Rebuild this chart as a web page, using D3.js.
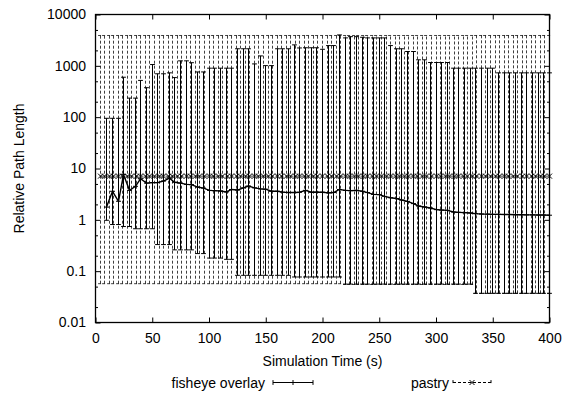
<!DOCTYPE html>
<html>
<head>
<meta charset="utf-8">
<script src="https://cdn.jsdelivr.net/npm/d3@7"></script>
<style>
  body { margin: 0; background: #fff; }
  svg { display: block; }
  text { font-family: "Liberation Sans", Arial, Helvetica, sans-serif; font-size: 14px; fill: #000; }
</style>
</head>
<body>
<svg id="chart" width="569" height="394"></svg>
<script>
// fisheye overlay: mean with min/max error bars
const fisheyeTime = [10, 15, 20, 25, 30, 35, 40, 45, 50, 55, 60, 65, 70, 75, 80, 85, 90, 95, 100, 105,
  110, 115, 120, 125, 130, 135, 140, 145, 150, 155, 160, 165, 170, 175, 180, 185, 190, 195, 200, 205,
  210, 215, 220, 225, 230, 235, 240, 245, 250, 255, 260, 265, 270, 275, 280, 285, 290, 295, 300, 305,
  310, 315, 320, 325, 330, 335, 340, 345, 350, 355, 360, 365, 370, 375, 380, 385, 390, 395, 400];
const fisheyeMean = [1.77, 3.6, 2.3, 7.6, 3.75, 4.5, 6.3, 5.2, 5.3, 5.3,
  5.7, 6.5, 5.4, 5.2, 4.9, 4.85, 4.35, 4.15, 3.75, 3.7,
  3.65, 3.5, 3.9, 3.8, 4.2, 4.55, 4.2, 4.0, 3.95, 3.6,
  3.6, 3.47, 3.4, 3.4, 3.45, 3.75, 3.45, 3.47, 3.45, 3.35,
  3.4, 3.9, 3.75, 3.7, 3.75, 3.6, 3.4, 3.13, 3.1, 2.87,
  2.7, 2.6, 2.43, 2.29, 2.07, 1.86, 1.78, 1.7, 1.58, 1.55,
  1.53, 1.42, 1.4, 1.38, 1.36, 1.32, 1.3, 1.29, 1.28, 1.28,
  1.27, 1.27, 1.26, 1.26, 1.25, 1.25, 1.24, 1.24, 1.23];
const fisheyeLow = [0.98, 0.81, 0.81, 0.74, 0.74, 0.67, 0.67, 0.67, 0.67, 0.33,
  0.33, 0.33, 0.26, 0.26, 0.26, 0.26, 0.22, 0.22, 0.18, 0.18,
  0.18, 0.17, 0.17, 0.083, 0.083, 0.083, 0.083, 0.083, 0.083, 0.083,
  0.083, 0.083, 0.083, 0.077, 0.077, 0.077, 0.077, 0.077, 0.077, 0.077,
  0.077, 0.077, 0.056, 0.056, 0.056, 0.056, 0.056, 0.056, 0.056, 0.056,
  0.056, 0.056, 0.056, 0.056, 0.056, 0.056, 0.056, 0.056, 0.056, 0.056,
  0.056, 0.056, 0.056, 0.056, 0.056, 0.037, 0.037, 0.037, 0.037, 0.037,
  0.037, 0.037, 0.037, 0.037, 0.037, 0.037, 0.037, 0.037, 0.037];
const fisheyeHigh = [95, 95, 95, 600, 235, 235, 520, 375, 1060, 700,
  700, 730, 590, 1250, 1250, 1150, 760, 760, 900, 900,
  900, 900, 900, 2150, 2150, 2150, 1090, 1560, 1010, 1010,
  2150, 2150, 2150, 2560, 2230, 2250, 2250, 2250, 2100, 2480,
  2480, 4000, 3500, 3700, 3700, 3600, 3500, 3500, 3500, 3500,
  2480, 2150, 2150, 1900, 1900, 1310, 1310, 1160, 1160, 1160,
  1160, 900, 900, 900, 900, 900, 900, 900, 900, 730,
  730, 730, 730, 730, 730, 730, 730, 730, 730];

// pastry: mean with min/max error bars
const pastryTime = [4, 8, 12, 16, 20, 24, 28, 32, 36, 40, 44, 48, 52, 56, 60, 64, 68, 72, 76, 80,
  84, 88, 92, 96, 100, 104, 108, 112, 116, 120, 124, 128, 132, 136, 140, 144, 148, 152, 156, 160,
  164, 168, 172, 176, 180, 184, 188, 192, 196, 200, 204, 208, 212, 216, 220, 224, 228, 232, 236, 240,
  244, 248, 252, 256, 260, 264, 268, 272, 276, 280, 284, 288, 292, 296, 300, 304, 308, 312, 316, 320,
  324, 328, 332, 336, 340, 344, 348, 352, 356, 360, 364, 368, 372, 376, 380, 384, 388, 392, 396, 400];
const pastryMean = [7.1, 7.1, 7.1, 7.1, 7.1, 7.1, 7.1, 7.1, 7.1, 7.1, 7.1, 7.1, 7.1, 7.1, 7.1, 7.1, 7.1, 7.1, 7.1, 7.1,
  7.1, 7.1, 7.1, 7.1, 7.1, 7.1, 7.1, 7.1, 7.1, 7.1, 7.1, 7.1, 7.1, 7.1, 7.1, 7.1, 7.1, 7.1, 7.1, 7.1,
  7.1, 7.1, 7.1, 7.1, 7.1, 7.1, 7.1, 7.1, 7.1, 7.1, 7.1, 7.1, 7.1, 7.1, 7.1, 7.1, 7.1, 7.1, 7.1, 7.1,
  7.1, 7.1, 7.1, 7.1, 7.1, 7.1, 7.1, 7.1, 7.1, 7.1, 7.1, 7.1, 7.1, 7.1, 7.1, 7.1, 7.1, 7.1, 7.1, 7.1,
  7.1, 7.1, 7.1, 7.1, 7.1, 7.1, 7.1, 7.1, 7.1, 7.1, 7.1, 7.1, 7.1, 7.1, 7.1, 7.1, 7.1, 7.1, 7.1, 7.1];
const pastryLow = [0.057, 0.057, 0.057, 0.057, 0.057, 0.057, 0.057, 0.057, 0.057, 0.057,
  0.057, 0.057, 0.057, 0.057, 0.057, 0.057, 0.057, 0.057, 0.057, 0.057,
  0.057, 0.057, 0.057, 0.057, 0.057, 0.057, 0.057, 0.057, 0.057, 0.057,
  0.057, 0.057, 0.057, 0.057, 0.057, 0.057, 0.057, 0.057, 0.057, 0.057,
  0.057, 0.057, 0.057, 0.057, 0.057, 0.057, 0.057, 0.057, 0.057, 0.057,
  0.057, 0.057, 0.057, 0.057, 0.055, 0.055, 0.055, 0.055, 0.055, 0.055,
  0.055, 0.055, 0.055, 0.055, 0.055, 0.055, 0.055, 0.055, 0.055, 0.055,
  0.055, 0.055, 0.055, 0.055, 0.055, 0.055, 0.055, 0.055, 0.055, 0.055,
  0.055, 0.055, 0.055, 0.037, 0.037, 0.037, 0.037, 0.037, 0.037, 0.037,
  0.037, 0.037, 0.037, 0.037, 0.037, 0.037, 0.037, 0.037, 0.037, 0.037];
const pastryHigh = [3900, 3900, 3900, 3900, 3900, 3900, 3900, 3900, 3900, 3900, 3900, 3900, 3900, 3900, 3900, 3900, 3900, 3900, 3900, 3900,
  3900, 3900, 3900, 3900, 3900, 3900, 3900, 3900, 3900, 3900, 3900, 3900, 3900, 3900, 3900, 3900, 3900, 3900, 3900, 3900,
  3900, 3900, 3900, 3900, 3900, 3900, 3900, 3900, 3900, 3900, 3900, 3900, 3900, 3900, 3900, 3900, 3900, 3900, 3900, 3900,
  3900, 3900, 3900, 3900, 3900, 3900, 3900, 3900, 3900, 3900, 3900, 3900, 3900, 3900, 3900, 3900, 3900, 3900, 3900, 3900,
  3900, 3900, 3900, 3900, 3900, 3900, 3900, 3900, 3900, 3900, 3900, 3900, 3900, 3900, 3900, 3900, 3900, 3900, 3900, 3900];

const xTicks = [0, 50, 100, 150, 200, 250, 300, 350, 400];
const yTicks = [0.01, 0.1, 1, 10, 100, 1000, 10000];
const yTickLabels = ['0.01', '0.1', '1', '10', '100', '1000', '10000'];
const yMinorTicks = [0.02, 0.05, 0.2, 0.5, 2, 5, 20, 50, 200, 500, 2000, 5000];

const svg = d3.select('#chart');
const width = 569;
const height = 394;
const margin = { top: 14.5, right: 19.5, bottom: 71.5, left: 95.5 };
const fontFamily = '"Liberation Sans", Arial, Helvetica, sans-serif';

const x = d3.scaleLinear().domain([0, 400]).range([margin.left, width - margin.right]);
const y = d3.scaleLog().domain([0.01, 10000]).range([height - margin.bottom, margin.top]);
// snap vertical bars to pixel centres so they stay crisp
const xs = t => Math.round(x(t) - 0.5) + 0.5;

const x0 = x.range()[0], x1 = x.range()[1];
const y0 = y.range()[0], y1 = y.range()[1];

// axes, ticks inward on all four sides
function styleAxis(g) {
  g.select('.domain').remove();
  g.attr('font-size', 14).attr('font-family', fontFamily);
  g.selectAll('line').attr('stroke', '#000');
}

svg.append('g').attr('transform', `translate(0,${y0})`)
  .call(d3.axisBottom(x).tickValues(xTicks).tickSize(-5).tickPadding(11).tickFormat(d3.format('d')))
  .call(styleAxis);
svg.append('g').attr('transform', `translate(0,${y1})`)
  .call(d3.axisTop(x).tickValues(xTicks).tickSize(-5).tickFormat(''))
  .call(styleAxis);
svg.append('g').attr('transform', `translate(${x0},0)`)
  .call(d3.axisLeft(y).tickValues(yTicks).tickSize(-5).tickPadding(9.5).tickFormat((d, i) => yTickLabels[i]))
  .call(styleAxis);
svg.append('g').attr('transform', `translate(${x0},0)`)
  .call(d3.axisLeft(y).tickValues(yMinorTicks).tickSize(-2.5).tickFormat(''))
  .call(styleAxis);
svg.append('g').attr('transform', `translate(${x1},0)`)
  .call(d3.axisRight(y).tickValues(yTicks).tickSize(-5).tickFormat(''))
  .call(styleAxis);
svg.append('g').attr('transform', `translate(${x1},0)`)
  .call(d3.axisRight(y).tickValues(yMinorTicks).tickSize(-2.5).tickFormat(''))
  .call(styleAxis);

svg.selectAll('.tick text').attr('fill', '#000');

// border
svg.append('rect')
  .attr('x', x0).attr('y', y1)
  .attr('width', x1 - x0).attr('height', y0 - y1)
  .attr('fill', 'none').attr('stroke', '#000').attr('stroke-width', 1.3);

const capHalf = 2.4;
const dash = '3,2';

function errorSeries(times, mean, low, high, dashed, marker) {
  const g = svg.append('g')
    .attr('stroke', '#000').attr('stroke-width', 1).attr('fill', 'none');
  if (dashed) g.attr('stroke-dasharray', dash).attr('stroke-opacity', 0.75);
  const pts = times.map((t, i) => ({ t, m: mean[i], lo: low[i], hi: high[i] }));

  g.selectAll('line.bar').data(pts).join('line').attr('class', 'bar')
    .attr('x1', d => xs(d.t)).attr('x2', d => xs(d.t))
    .attr('y1', d => y(d.lo)).attr('y2', d => y(d.hi));
  g.selectAll('line.capLo').data(pts).join('line').attr('class', 'capLo')
    .attr('x1', d => xs(d.t) - capHalf).attr('x2', d => xs(d.t) + capHalf)
    .attr('y1', d => y(d.lo)).attr('y2', d => y(d.lo));
  g.selectAll('line.capHi').data(pts).join('line').attr('class', 'capHi')
    .attr('x1', d => xs(d.t) - capHalf).attr('x2', d => xs(d.t) + capHalf)
    .attr('y1', d => y(d.hi)).attr('y2', d => y(d.hi));

  const line = d3.line().x(d => xs(d.t)).y(d => y(d.m));
  g.append('path').datum(pts).attr('d', line).attr('stroke-width', dashed ? 1 : 1.4);

  const mk = svg.append('g').attr('stroke', '#000').attr('stroke-width', 1);
  mk.selectAll('path').data(pts).join('path')
    .attr('d', d => marker(xs(d.t), y(d.m)));
}

const plusMark = (cx, cy) => `M${cx - 2.5},${cy}H${cx + 2.5}M${cx},${cy - 2.5}V${cy + 2.5}`;
const crossMark = (cx, cy) => `M${cx - 2.5},${cy - 2.5}L${cx + 2.5},${cy + 2.5}M${cx - 2.5},${cy + 2.5}L${cx + 2.5},${cy - 2.5}`;

errorSeries(fisheyeTime, fisheyeMean, fisheyeLow, fisheyeHigh, false, plusMark);
errorSeries(pastryTime, pastryMean, pastryLow, pastryHigh, true, crossMark);

// axis titles
svg.append('text')
  .attr('x', (x0 + x1) / 2).attr('y', 366)
  .attr('text-anchor', 'middle')
  .text('Simulation Time (s)');

svg.append('text')
  .attr('transform', `translate(24,${(y0 + y1) / 2}) rotate(-90)`)
  .attr('text-anchor', 'middle')
  .text('Relative Path Length');

// legend
const legendY = 382.5;
const legend = [
  { label: 'fisheye overlay', textX: 265, from: 273, to: 313, dashed: false, marker: plusMark },
  { label: 'pastry', textX: 449, from: 453, to: 491, dashed: true, marker: crossMark }
];
legend.forEach(l => {
  svg.append('text')
    .attr('x', l.textX).attr('y', legendY + 5)
    .attr('text-anchor', 'end')
    .text(l.label);
  const g = svg.append('g').attr('stroke', '#000').attr('stroke-width', 1);
  if (l.dashed) g.attr('stroke-dasharray', dash);
  g.append('line').attr('x1', l.from).attr('x2', l.to).attr('y1', legendY).attr('y2', legendY);
  g.append('line').attr('x1', l.from).attr('x2', l.from).attr('y1', legendY - capHalf).attr('y2', legendY + capHalf);
  g.append('line').attr('x1', l.to).attr('x2', l.to).attr('y1', legendY - capHalf).attr('y2', legendY + capHalf);
  svg.append('path').attr('stroke', '#000').attr('stroke-width', 1)
    .attr('d', l.marker((l.from + l.to) / 2, legendY));
});
</script>
</body>
</html>
